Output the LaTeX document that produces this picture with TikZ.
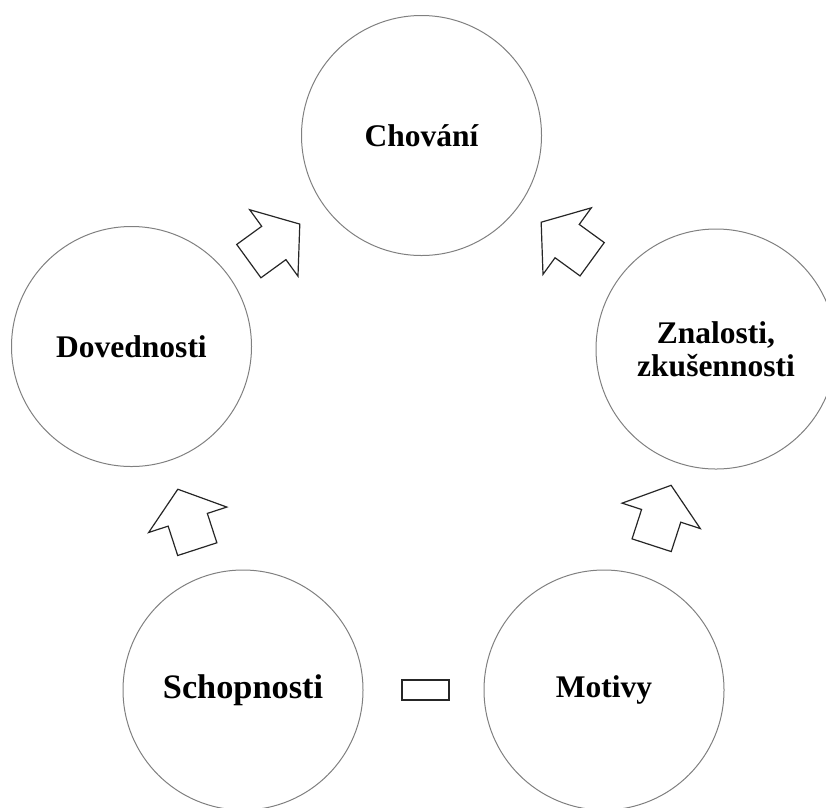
\documentclass[tikz,border=0pt]{standalone}
\usepackage{fontspec}
\setmainfont{Liberation Serif}
\usepackage{tikz}
\usetikzlibrary{positioning, calc, shapes.arrows}

\tikzset{
    pojem/.style={circle, draw=black!50, line width=1pt, minimum size=240pt, inner sep=0pt,
        align=center, font=\fontsize{31.5}{33}\selectfont\bfseries},
    sipka/.style={single arrow, draw=black!85, line width=1.2pt,
        inner xsep=0pt, inner ysep=20pt, minimum height=63pt,
        single arrow head extend=20.5pt, single arrow tip angle=104},
    obdelnik/.style={rectangle, draw=black!85, line width=1.2pt, inner sep=0pt,
        minimum width=47pt, minimum height=20pt}
}

\begin{document}
\begin{tikzpicture}[x=1pt, y=-1pt]
    \useasboundingbox (0,0) rectangle (826,807);

    \node[pojem] (chovani) at (421.5,135.5) {Chování};
    \node[pojem] (dovednosti) at (131.5,346.5) {Dovednosti};
    \node[pojem] (znalosti) at (716,349) {Znalosti,\\zkušennosti};
    \node[pojem, font=\fontsize{34.3}{36}\selectfont\bfseries] (schopnosti) at (243,690) {Schopnosti};
    \node[pojem] (motivy) at (604,690) {Motivy};

    \node[sipka, rotate=36] (s1) at ($(dovednosti)!0.47!(chovani)$) {};
    \node[sipka, rotate=144] (s2) at ($(znalosti)!0.485!(chovani)$) {};
    \node[sipka, rotate=108] (s3) at ($(schopnosti)!0.475!(dovednosti)$) {};
    \node[sipka, rotate=72] (s4) at ($(motivy)!0.49!(znalosti)$) {};

    \node[obdelnik, xshift=2pt] (spoj) at ($(schopnosti)!0.5!(motivy)$) {};
\end{tikzpicture}
\end{document}
